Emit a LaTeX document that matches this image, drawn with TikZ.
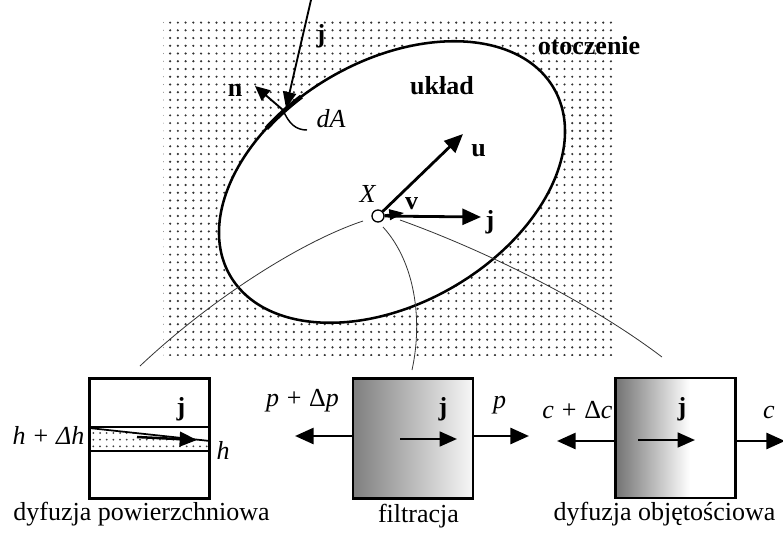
\documentclass[tikz,border=0pt]{standalone}
\usepackage{fontspec}
\setmainfont{Liberation Serif}
\usetikzlibrary{arrows.meta,patterns}
\pgfdeclarepatternformonly{mydots}{\pgfqpoint{-1pt}{-1pt}}{\pgfqpoint{1pt}{1pt}}{\pgfqpoint{5.8pt}{5.8pt}}{%
  \pgfpathcircle{\pgfqpoint{0pt}{0pt}}{0.9pt}\pgfusepath{fill}}
\pgfdeclarepatternformonly{stripdots}{\pgfqpoint{-1pt}{-1pt}}{\pgfqpoint{1pt}{1pt}}{\pgfqpoint{5pt}{5pt}}{%
  \pgfpathcircle{\pgfqpoint{0pt}{0pt}}{0.75pt}\pgfusepath{fill}}
\pgfdeclarehorizontalshading{partgrad}{100bp}{color(0bp)=(black!55); color(25bp)=(black!55); color(56bp)=(white); color(100bp)=(white)}
\tikzset{
  lbl/.style={inner sep=0pt, font=\fontsize{19.5}{23}\selectfont},
  blbl/.style={inner sep=0pt, font=\fontsize{19.5}{23}\selectfont\bfseries},
  ilbl/.style={inner sep=0pt, font=\fontsize{19.5}{23}\selectfont\itshape},
  bigarrow/.style={line width=2.1pt, -{Triangle[length=14pt,width=12pt]}},
  midarrow/.style={line width=1.9pt, -{Triangle[length=13pt,width=11pt]}},
  thinarrow/.style={line width=1.4pt, -{Triangle[length=12pt,width=10pt]}},
  thinlink/.style={line width=0.6pt, black!80},
  boxframe/.style={draw, line width=1.7pt, inner sep=0pt, minimum width=90pt, minimum height=90pt},
}
\begin{document}
\begin{tikzpicture}[x=0.75pt,y=-0.75pt]
\useasboundingbox (0,0) rectangle (783,533);
% surroundings
\fill[pattern=mydots, pattern color=black!80] (163,20) rectangle (612,355);
% system
\draw[line width=1.9pt, fill=white, shift={(392,182)}, rotate=30] (0,0) ellipse [x radius=187, y radius=121.5];
\draw[line width=3.4pt, shift={(392,182)}, rotate=30] plot[domain=-116:-101, samples=20] ({187*cos(\x)},{121.5*sin(\x)});
\node[blbl] (ukl) at (442,86) {układ};
\node[blbl] (oto) at (589,46) {otoczenie};
% surface element
\coordinate (jtop) at (311,0);
\coordinate (nbase) at (283,110);
\coordinate (jsurf) at (286,108);
\coordinate (ntip) at (255,86);
\coordinate (dAend) at (307,130);
\draw[thinarrow] (jtop) -- (jsurf);
\draw[thinarrow,-{Triangle[length=11pt,width=10pt]}] (nbase) -- (ntip);
\draw[line width=1.1pt] (nbase) .. controls (289,124) and (296,130) .. (dAend);
\node[blbl] (jt) at (321,36) {j};
\node[blbl] (nl) at (235,90) {n};
\node[ilbl] (dA) at (331,119) {dA};
% point X
\coordinate (X) at (378,216);
\node[circle, line width=0.9pt, inner sep=0pt, minimum size=9pt] (Xc) at (X) {};
\coordinate (utip) at (463,134);
\coordinate (jtip) at (481,217);
\coordinate (vtip) at (404,213);
\draw[bigarrow] (Xc) -- (utip);
\draw[bigarrow] (Xc) -- (jtip);
\draw[line width=1.4pt, -{Triangle[length=11pt,width=8pt]}] (Xc) -- (vtip);
\node[circle, draw, fill=white, line width=1pt, inner sep=0pt, minimum size=9pt] at (X) {};
\node[ilbl] (Xl) at (367.5,194) {X};
\node[blbl] (ul) at (478.5,150.5) {u};
\node[blbl] (vl) at (411.5,203.5) {v};
\node[blbl] (jl) at (490,222.5) {j};
% thin links
\coordinate (s1) at (363,221);
\coordinate (s2) at (383,227);
\coordinate (s3) at (400,220);
\coordinate (e1) at (140,366);
\coordinate (e2) at (412,370);
\coordinate (e3) at (662,357);
\draw[thinlink] (s1) .. controls (300,242) and (210,300) .. (e1);
\draw[thinlink] (s2) .. controls (415,262) and (423,320) .. (e2);
\draw[thinlink] (s3) .. controls (470,245) and (580,295) .. (e3);
% box 1: surface diffusion
\node[boxframe] (b1) at (149.5,438.5) {};
\coordinate (sl) at (89,428);
\coordinate (sr) at (210,441);
\coordinate (bl) at (89,451);
\coordinate (br) at (210,451);
\coordinate (tl) at (89,427);
\coordinate (tr) at (210,427);
\fill[pattern=stripdots, pattern color=black!75] (sl) -- (sr) -- (br) -- (bl) -- cycle;
\draw[line width=1.7pt] (tl) -- (tr);
\draw[line width=1.7pt] (bl) -- (br);
\draw[line width=1.3pt] (sl) -- (sr);
\coordinate (a1s) at (137,437);
\coordinate (a1e) at (197,440);
\draw[midarrow] (a1s) -- (a1e);
\node[blbl] (j1) at (181,409) {j};
\node[lbl] (hdh) at (48.5,435.5) {\textit{h}\hspace{0.3em}+\hspace{0.3em}\textit{Δh}};
\node[ilbl] (h1) at (223,450) {h};
\node[lbl] (t1) at (141.5,514.5) {dyfuzja powierzchniowa};
% box 2: filtration
\node[boxframe, left color=black!50, right color=white!97!black] (b2) at (413,438.5) {};
\coordinate (pl) at (295,436);
\coordinate (pr) at (529,436);
\draw[bigarrow] (b2.west |- pl) -- (pl);
\draw[bigarrow] (b2.east |- pr) -- (pr);
\coordinate (a2s) at (400,439);
\coordinate (a2e) at (457,439);
\draw[midarrow] (a2s) -- (a2e);
\node[blbl] (j2) at (443,409) {j};
\node[lbl] (pdp) at (302.5,401) {\textit{p}\hspace{0.3em}+\hspace{0.3em}Δ\textit{p}};
\node[ilbl] (p2) at (499.5,405) {p};
\node[lbl] (t2) at (418.5,516) {filtracja};
% box 3: volume diffusion
\node[boxframe, shade, shading=partgrad] (b3) at (675.5,438) {};
\coordinate (cl) at (557,441);
\coordinate (cr) at (785,441);
\draw[bigarrow] (b3.west |- cl) -- (cl);
\draw[bigarrow] (b3.east |- cr) -- (cr);
\coordinate (a3s) at (638,440);
\coordinate (a3e) at (695,440);
\draw[midarrow] (a3s) -- (a3e);
\node[blbl] (j3) at (682,409) {j};
\node[lbl] (cdc) at (577.5,410.5) {\textit{c}\hspace{0.3em}+\hspace{0.3em}Δ\textit{c}};
\node[ilbl] (c3) at (769,412) {c};
\node[lbl] (t3) at (664.5,514.5) {dyfuzja objętościowa};
\end{tikzpicture}
\end{document}
